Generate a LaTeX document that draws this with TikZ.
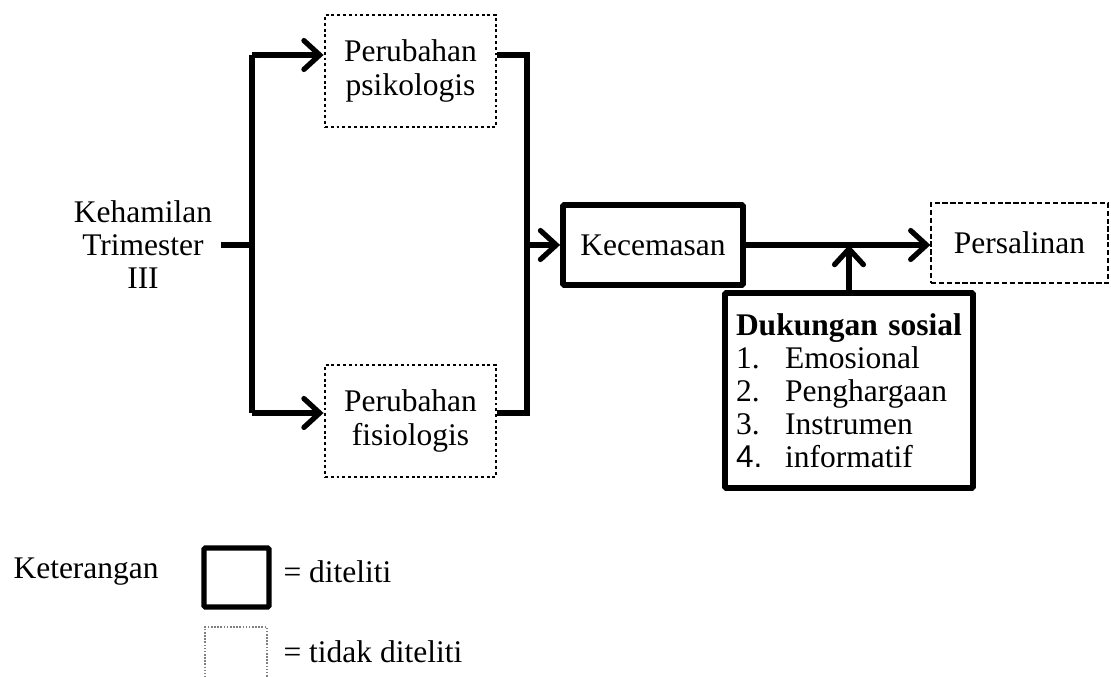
\documentclass[tikz,border=0pt]{standalone}
\usepackage{fontspec}
\setmainfont{Liberation Serif}
\newfontfamily\armfont{Liberation Sans}
\usepackage{tikz}
\usetikzlibrary{arrows.meta, positioning}

\newcommand\pxl{0.381pt}

\begin{document}
\begin{tikzpicture}[x=0.381pt, y=-0.381pt,
line/.style={line width=2pt, line join=miter},
arr/.style={line, -{Straight Barb[length=6pt, width=11pt, line width=2pt, line cap=round]}},
diteliti/.style={draw, line width=2.2pt, rounded corners=0.5pt},
dotbox/.style={draw, line width=1.1pt, dash pattern=on 1.1pt off 1.1pt},
dashbox/.style={draw, line width=0.5pt, dash pattern=on 2pt off 1pt},
thinbox/.style={draw=gray, line width=0.5pt, dash pattern=on 0.6pt off 0.6pt}]
\tikzstyle{every node}=[font=\fontsize{12pt}{12.6pt}\selectfont, align=center]

\useasboundingbox (0,0) rectangle (1111,677);

\node (kehamilan) at (143,245) {Kehamilan\\Trimester\\III};
\node[dotbox, minimum width=171*\pxl, minimum height=112*\pxl] (psiko) at (410.5,71) {Perubahan\\psikologis};
\node[dotbox, minimum width=171*\pxl, minimum height=112*\pxl] (fisio) at (410.5,421) {Perubahan\\fisiologis};
\node[diteliti, minimum width=180*\pxl, minimum height=80*\pxl] (kecemasan) at (653,245) {Kecemasan};
\node[dashbox, minimum width=177*\pxl, minimum height=80*\pxl] (persalinan) at (1019.5,243) {Persalinan};
\node[diteliti, minimum width=248*\pxl, minimum height=195*\pxl, text width=226*\pxl, align=left] (dukungan) at (849,390.5)
  {\textbf{Dukungan sosial}\\
   \makebox[18.7pt][l]{1.}Emosional\\
   \makebox[18.7pt][l]{2.}Penghargaan\\
   \makebox[18.7pt][l]{3.}Instrumen\\
   \makebox[18.7pt][l]{\armfont 4.}informatif\\[12pt]};

\coordinate (split) at (252,245);
\coordinate (atas) at (252,55);
\coordinate (bawah) at (252,413);
\coordinate (join) at (527,245);

\draw[line] (kehamilan.east) -- (split);
\draw[line] (atas) -- (bawah);
\draw[arr] (atas) -- (atas -| psiko.west);
\draw[arr] (bawah) -- (bawah -| fisio.west);
\draw[line] (atas -| psiko.east) -| (join) |- (bawah -| fisio.east);
\draw[arr] (join) -- (kecemasan.west);
\draw[arr] (kecemasan.east) -- (kecemasan.east -| persalinan.west);
\draw[arr] (dukungan.north) -- (dukungan.north |- kecemasan.east);

\node[anchor=west, inner sep=0pt] (keterangan) at (13,572) {Keterangan};
\node[diteliti, line width=2pt, minimum width=65*\pxl, minimum height=59*\pxl] (legdi) at (236.5,577.5) {};
\node[thinbox, minimum width=62*\pxl, minimum height=60*\pxl] (legtidak) at (236,657) {};
\node[anchor=west, inner sep=0pt] (ketdi) at (283,572) {= diteliti};
\node[anchor=west, inner sep=0pt] (kettidak) at (283,652) {= tidak diteliti};

\end{tikzpicture}
\end{document}
